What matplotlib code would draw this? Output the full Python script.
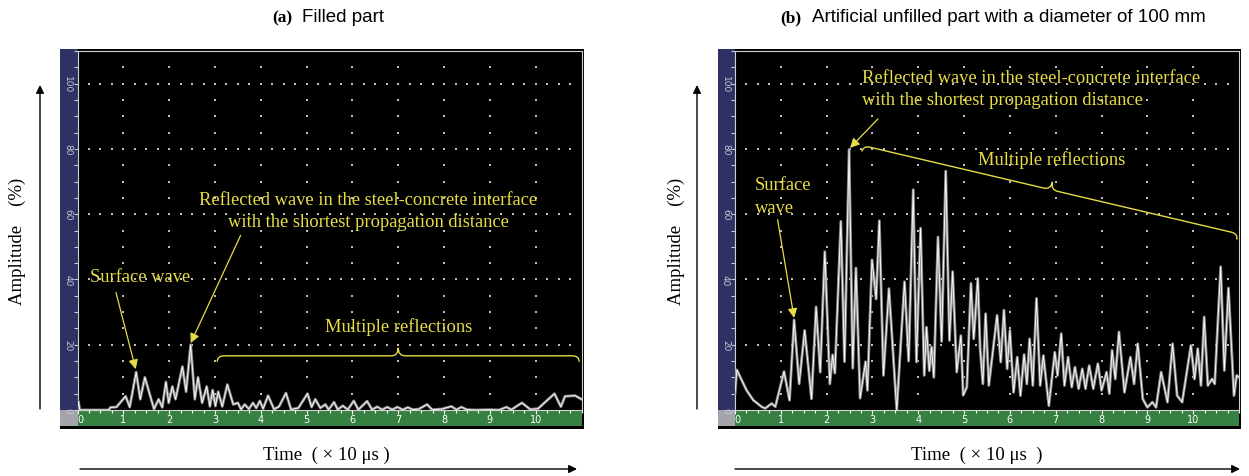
import numpy as np
import matplotlib
matplotlib.use("Agg")
import matplotlib.pyplot as plt
from matplotlib.patches import Rectangle, PathPatch, FancyArrowPatch
from matplotlib.path import Path

W, H = 1249, 477

# --- data: time (x10 us) vs amplitude (%) at peaks/troughs ---
t_a = [0.00, 0.02, 0.05, 0.68, 0.72, 0.85, 1.05, 1.14, 1.28, 1.37,
       1.47, 1.67, 1.77, 1.85, 1.93, 1.99, 2.07, 2.14, 2.29, 2.37,
       2.47, 2.56, 2.63, 2.72, 2.82, 2.89, 2.95, 3.01, 3.07, 3.16,
       3.27, 3.40, 3.50, 3.57, 3.65, 3.74, 3.83, 3.90, 3.98, 4.05,
       4.16, 4.29, 4.40, 4.55, 4.66, 4.82, 5.02, 5.11, 5.19, 5.30,
       5.41, 5.48, 5.60, 5.68, 5.79, 5.90, 6.03, 6.13, 6.32, 6.43,
       6.54, 6.65, 6.76, 6.87, 6.98, 7.10, 7.21, 7.32, 7.45, 7.63,
       7.74, 7.95, 8.16, 8.27, 8.38, 8.50, 8.70, 9.00, 9.20, 9.36,
       9.47, 9.70, 9.88, 10.05, 10.41, 10.55, 10.64, 10.86, 11.00]
amp_a = [0.0, 2.6, 0.0, 0.0, 0.8, 0.9, 4.2, 0.9, 11.6, 3.3,
         10.0, 0.3, 3.3, 0.8, 8.6, 2.2, 7.2, 3.3, 13.3, 5.6,
         20.0, 3.3, 10.0, 2.2, 7.2, 1.1, 6.1, 1.2, 5.6, 1.1,
         7.8, 1.7, 2.2, 0.2, 1.7, 0.3, 2.2, 0.6, 2.8, 0.4,
         4.4, 0.2, 1.1, 5.2, 0.2, 0.6, 5.0, 0.9, 3.3, 0.6,
         1.7, 0.1, 2.4, 0.1, 1.3, 0.1, 2.8, 0.1, 2.7, 0.1,
         1.0, 0.1, 0.9, 0.1, 0.9, 0.1, 0.8, 0.1, 0.3, 1.7,
         0.1, 0.3, 1.1, 0.1, 0.9, 0.1, 0.0, 0.1, 0.0, 0.9,
         0.1, 2.2, 0.2, 0.4, 5.0, 1.0, 4.2, 4.4, 3.3]

t_b = [0.00, 0.04, 0.25, 0.40, 0.58, 0.66, 0.80, 0.88, 1.07, 1.19,
       1.29, 1.40, 1.52, 1.67, 1.77, 1.86, 1.96, 2.07, 2.13, 2.18,
       2.31, 2.39, 2.49, 2.57, 2.64, 2.73, 2.85, 2.89, 2.99, 3.08,
       3.15, 3.24, 3.36, 3.53, 3.70, 3.79, 3.89, 3.96, 4.05, 4.13,
       4.18, 4.24, 4.29, 4.34, 4.43, 4.51, 4.60, 4.68, 4.75, 4.84,
       4.93, 4.98, 5.06, 5.15, 5.21, 5.30, 5.35, 5.41, 5.47, 5.54,
       5.72, 5.80, 5.87, 5.94, 6.00, 6.08, 6.16, 6.23, 6.31, 6.37,
       6.43, 6.50, 6.58, 6.66, 6.73, 6.85, 6.98, 7.04, 7.12, 7.19,
       7.27, 7.35, 7.42, 7.50, 7.58, 7.65, 7.73, 7.82, 7.92, 8.00,
       8.11, 8.17, 8.23, 8.30, 8.38, 8.50, 8.63, 8.71, 8.79, 8.90,
       9.00, 9.11, 9.19, 9.30, 9.44, 9.55, 9.65, 9.76, 9.95, 10.03,
       10.10, 10.17, 10.24, 10.32, 10.41, 10.47, 10.60, 10.68, 10.77, 10.89,
       10.95, 11.00]
amp_b = [5.0, 12.3, 6.1, 3.0, 1.0, 0.5, 2.0, 1.0, 11.8, 3.0,
         27.6, 8.0, 24.4, 3.4, 31.6, 11.6, 48.5, 8.0, 16.9, 11.3,
         57.8, 14.8, 79.8, 12.8, 43.5, 3.6, 14.8, 6.0, 46.0, 34.0,
         58.0, 10.6, 37.2, 0.0, 39.3, 15.0, 67.5, 14.7, 55.7, 10.6,
         25.4, 12.0, 19.3, 10.0, 53.0, 21.0, 73.2, 21.3, 42.4, 11.6,
         22.8, 4.5, 7.0, 38.8, 21.8, 40.3, 18.8, 8.0, 29.5, 7.5,
         29.0, 14.7, 30.6, 12.6, 24.4, 5.4, 16.2, 4.4, 17.0, 8.0,
         21.8, 7.5, 34.2, 7.5, 16.7, 1.3, 17.7, 10.6, 23.4, 7.5,
         16.2, 7.0, 13.1, 6.5, 12.6, 6.5, 13.6, 6.5, 14.2, 6.0,
         11.6, 5.0, 18.3, 9.5, 23.9, 5.4, 16.2, 8.0, 20.3, 3.4,
         0.8, 2.4, 0.8, 11.6, 2.4, 20.3, 4.4, 2.4, 19.8, 9.5,
         18.8, 7.5, 28.5, 7.5, 9.5, 8.0, 43.9, 12.1, 37.4, 4.4,
         10.6, 10.0]

x_ticks = list(range(11))
y_ticks = [0, 20, 40, 60, 80, 100]

NAVY = "#2d3164"
GREEN = "#368141"
CORNER = "#a4a4ac"
YEL = "#e6dc46"
SERIF = "Liberation Serif"
SANS = "Liberation Sans"

fig = plt.figure(figsize=(W / 100, H / 100), dpi=100)


def fx(x):
    return x / W


def fy(y):
    return 1 - y / H


def box(x0, y0, x1, y1, color):
    fig.add_artist(Rectangle((fx(x0), fy(y1)), (x1 - x0) / W, (y1 - y0) / H,
                             transform=fig.transFigure, facecolor=color,
                             edgecolor="none", zorder=0))


def brace(ax, p0, p1, tip=6, bump=8, r=7):
    # curly brace between two data points, drawn in pixel space
    a = ax.transData.transform(p0)
    b = ax.transData.transform(p1)
    u = (b - a) / np.hypot(*(b - a))
    n = np.array([-u[1], u[0]])
    m = (a + b) / 2
    pts = [a - n * tip, a, a + u * r, m - u * r, m, m + n * bump,
           m, m + u * r, b - u * r, b, b - n * tip]
    codes = [Path.MOVETO, Path.CURVE3, Path.CURVE3, Path.LINETO,
             Path.CURVE3, Path.CURVE3, Path.CURVE3, Path.CURVE3,
             Path.LINETO, Path.CURVE3, Path.CURVE3]
    pts = ax.transData.inverted().transform(np.array(pts))
    ax.add_patch(PathPatch(Path(pts, codes), facecolor="none",
                           edgecolor=YEL, lw=1.0, zorder=6))


def panel(left, t, amp):
    right = left + 504
    box(left - 17.5, 50, right + 2, 430, "black")
    box(left - 17.5, 50, left, 411, NAVY)
    box(left - 17.5, 411, left, 427, CORNER)
    box(left, 411, right, 427, GREEN)
    ax = fig.add_axes([fx(left), fy(411), (right - left) / W, (411 - 52) / H])
    ax.set_facecolor("black")
    ax.set_xlim(0, 11)
    ax.set_ylim(0, 110)

    gx = np.arange(0.25, 11, 0.25)
    for yv in y_ticks[1:]:
        ax.scatter(gx, np.full_like(gx, yv), s=1.3, marker="s",
                   color="#bdbdbd", lw=0, zorder=1)
    gy = np.arange(5, 110, 5)
    for xv in x_ticks[1:]:
        ax.scatter(np.full_like(gy, xv, dtype=float), gy, s=1.3, marker="s",
                   color="#bdbdbd", lw=0, zorder=1)

    ax.plot(t, amp, color="#8f8f8f", lw=2.0, zorder=3)
    ax.plot(t, amp, color="white", lw=0.6, zorder=4)

    for s in ax.spines.values():
        s.set_color("#d2d2d2")
        s.set_linewidth(0.8)
    ax.set_xticks(x_ticks)
    ax.set_xticks(np.arange(0, 11.01, 0.25), minor=True)
    ax.set_yticks(np.arange(0, 111, 5))
    ax.tick_params(axis="x", which="both", colors="white", length=3,
                   width=0.8, labelbottom=False)
    ax.tick_params(axis="x", which="minor", length=2)
    ax.tick_params(axis="y", colors="#c8c8d2", length=3, width=0.8,
                   labelleft=False)
    for xv in x_ticks:
        ax.text(xv + (0.06 if xv == 0 else 0), -0.024, str(xv),
                transform=ax.get_xaxis_transform(), ha="center", va="center",
                color="white", fontsize=7, family="DejaVu Sans")
    for yv in y_ticks:
        ax.text(-0.019, yv, str(yv), transform=ax.get_yaxis_transform(),
                ha="center", va="center", rotation=270, color="#c8c8d2",
                fontsize=6.5, family="DejaVu Sans")
    return ax


def arrow(x0, y0, x1, y1):
    fig.add_artist(FancyArrowPatch((fx(x0), fy(y0)), (fx(x1), fy(y1)),
                                   transform=fig.transFigure,
                                   arrowstyle="-|>", mutation_scale=12,
                                   color="black", lw=1.0,
                                   shrinkA=0, shrinkB=0))


ann = dict(color=YEL, fontsize=13.3, family=SERIF, zorder=7)
arr = dict(arrowstyle="-|>", color=YEL, lw=0.9, mutation_scale=14,
           shrinkA=0, shrinkB=0)

# (a) filled part
ax1 = panel(77.5, t_a, amp_a)
ax1.text(0.27, 41, "Surface wave", ha="left", va="center", **ann)
ax1.annotate("", xy=(1.27, 12.5), xytext=(0.84, 36), arrowprops=arr, zorder=7)
ax1.text(6.35, 64.6, "Reflected wave in the steel-concrete interface",
         ha="center", va="center", **ann)
ax1.text(6.35, 57.8, "with the shortest propagation distance",
         ha="center", va="center", **ann)
ax1.annotate("", xy=(2.47, 20.5), xytext=(3.56, 53.5), arrowprops=arr, zorder=7)
ax1.text(7.0, 25.6, "Multiple reflections", ha="center", va="center", **ann)
brace(ax1, (3.05, 16.6), (10.95, 16.6))

# (b) artificial unfilled part
ax2 = panel(735, t_b, amp_b)
ax2.text(0.44, 69, "Surface", ha="left", va="center", **ann)
ax2.text(0.44, 62, "wave", ha="left", va="center", **ann)
ax2.annotate("", xy=(1.29, 28.2), xytext=(0.93, 58.3), arrowprops=arr, zorder=7)
ax2.text(2.77, 101.8, "Reflected wave in the steel-concrete interface",
         ha="left", va="center", **ann)
ax2.text(2.77, 95.0, "with the shortest propagation distance",
         ha="left", va="center", **ann)
ax2.annotate("", xy=(2.51, 80.3), xytext=(3.12, 89.2), arrowprops=arr, zorder=7)
ax2.text(6.9, 77.0, "Multiple reflections", ha="center", va="center", **ann)
brace(ax2, (2.80, 81.0), (10.98, 54.0))

# titles
fig.text(fx(292), fy(18), "(a)", ha="right", va="center", fontsize=12.5,
         family=SERIF, weight="bold")
fig.text(fx(302), fy(18), "Filled part", ha="left", va="center",
         fontsize=13.5, family=SANS)
fig.text(fx(801), fy(18), "(b)", ha="right", va="center", fontsize=12.5,
         family=SERIF, weight="bold")
fig.text(fx(812), fy(18), "Artificial unfilled part with a diameter of 100 mm",
         ha="left", va="center", fontsize=13.5, family=SANS)

# axis labels + arrows
for xl, xa, xc, x0, x1, tl in [(17, 40, 326, 80, 577, "Time  ( × 10 μs )"),
                               (676, 697, 977, 735, 1240, "Time  ( × 10 μs  )")]:
    fig.text(fx(xl), fy(241), "Amplitude    (%)", rotation=90, ha="center",
             va="center", fontsize=13.5, family=SERIF)
    arrow(xa, 410, xa, 86)
    fig.text(fx(xc), fy(455), tl, ha="center", va="center", fontsize=13.5,
             family=SERIF)
    arrow(x0, 470, x1, 470)

fig.savefig("out.png", dpi=100)
